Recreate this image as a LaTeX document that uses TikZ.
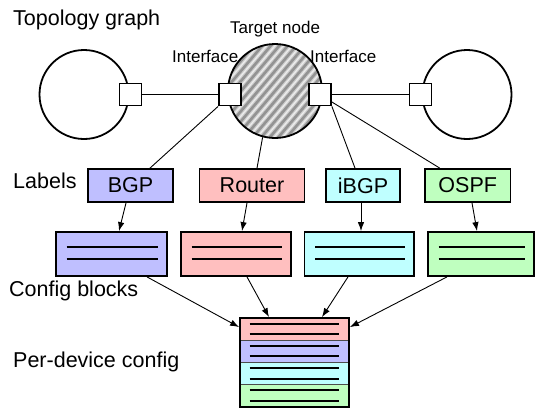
\documentclass[tikz,border=0pt]{standalone}
\usepackage{fontspec}
\setmainfont{Liberation Sans}
\usetikzlibrary{arrows.meta,calc}
\definecolor{colBGP}{HTML}{BFBFFF}
\definecolor{colRouter}{HTML}{FFBFBF}
\definecolor{colIBGP}{HTML}{BFFFFF}
\definecolor{colOSPF}{HTML}{BFFFBF}
\begin{document}
\begin{tikzpicture}[x=1pt,y=-1pt,
  big/.style={font=\fontsize{21.5}{24}\selectfont, inner sep=0pt, anchor=base west},
  small/.style={font=\fontsize{17}{20}\selectfont, inner sep=0pt, anchor=base west},
  ring/.style={circle, draw, line width=1.8pt, inner sep=0pt},
  port/.style={draw, fill=white, line width=1.8pt, minimum size=22pt, inner sep=0pt},
  lab/.style={draw, line width=1.8pt, minimum height=33pt, inner sep=0pt, font=\fontsize{21.5}{24}\selectfont},
  blk/.style={draw, line width=1.8pt, minimum height=44pt, inner sep=0pt},
  row/.style={draw=black!70, line width=0.8pt, minimum width=109pt, minimum height=22.25pt, inner sep=0pt},
  link/.style={line width=0.9pt},
  arr/.style={line width=0.9pt, -{Latex[length=9pt,width=6.5pt]}},
  cfgline/.style={line width=1.9pt},
  hatch/.style={path picture={
    \fill[gray!40] (path picture bounding box.south west) rectangle (path picture bounding box.north east);
    \foreach \k in {-16,...,16} {
      \draw[gray!85, line width=2.6pt] ($(path picture bounding box.center)+(\k*8.5-55,65)$) -- ++(110,-130);
      \draw[white!85!gray, line width=1.3pt] ($(path picture bounding box.center)+(\k*8.5-50.75,65)$) -- ++(110,-130);
    }}},
]
\useasboundingbox (0,0) rectangle (535,410);

% texts
\node[big] (tTopo) at (13,25) {Topology graph};
\node[small] (tTarget) at (230,33) {Target node};
\node[small] (tIf1) at (172,62) {Interface};
\node[small] (tIf2) at (310,62) {Interface};
\node[big] (tLabels) at (13,188) {Labels};
\node[big] (tCfg) at (9,296) {Config blocks};
\node[big] (tDev) at (13,367) {Per-device config};

% topology
\node[ring, minimum size=89pt] (cl) at (84,94.5) {};
\node[ring, minimum size=89pt] (cr) at (467,94.5) {};
\node[ring, minimum size=94pt, hatch] (tgt) at (275,91) {};
\coordinate (p1) at (130.5,94.5);
\coordinate (p2) at (230,94.5);
\coordinate (p3) at (320,94.5);
\coordinate (p4) at (420.5,94.5);
\draw[line width=1.6pt] (p1) -- (p2);
\draw[line width=1.6pt] (p3) -- (p4);
\node[port] (sq1) at (p1) {};
\node[port] (sq2) at (p2) {};
\node[port] (sq3) at (p3) {};
\node[port] (sq4) at (p4) {};

% label boxes
\node[lab, fill=colBGP, minimum width=85pt] (lbgp) at (130.5,185.5) {BGP};
\node[lab, fill=colRouter, minimum width=105pt] (lrouter) at (252,185.5) {Router};
\node[lab, fill=colIBGP, minimum width=74pt] (libgp) at (363,185.5) {iBGP};
\node[lab, fill=colOSPF, minimum width=85.5pt] (lospf) at (467.75,185.5) {OSPF};

% topology to labels
\draw[link] (sq2.south west) -- ([xshift=19.5pt]lbgp.north);
\draw[link] (tgt.-105) -- ([xshift=5pt]lrouter.north);
\draw[link] (sq3.south east) -- ([xshift=-8pt]libgp.north);
\draw[link] ([yshift=-7.5pt]sq3.east) -- ([xshift=-28pt]lospf.north);

% config blocks
\node[blk, fill=colBGP, minimum width=111pt] (cbgp) at (111.5,254) {};
\node[blk, fill=colRouter, minimum width=110pt] (crouter) at (236,254) {};
\node[blk, fill=colIBGP, minimum width=109.5pt] (cibgp) at (359.25,254) {};
\node[blk, fill=colOSPF, minimum width=106pt] (cospf) at (481,254) {};
\foreach \n in {cbgp,crouter,cibgp,cospf} {
  \draw[cfgline] ($(\n.north west)+(11.5,15.5)$) -- ($(\n.north east)+(-10,15.5)$);
  \draw[cfgline] ($(\n.north west)+(11.5,27.5)$) -- ($(\n.north east)+(-10,27.5)$);
}

% labels to config blocks
\draw[arr] ([xshift=-4.5pt]lbgp.south) -- ([xshift=7.5pt]cbgp.north);
\draw[arr] ([xshift=-5pt]lrouter.south) -- ([xshift=6pt]crouter.north);
\draw[arr] ([xshift=-2pt]libgp.south) -- ([xshift=1.75pt]cibgp.north);
\draw[arr] ([xshift=4.25pt]lospf.south) -- ([xshift=-4pt]cospf.north);

% per-device stack
\node[row, fill=colRouter] (r1) at (294.5,329.125) {};
\node[row, fill=colBGP] (r2) at (294.5,351.375) {};
\node[row, fill=colIBGP] (r3) at (294.5,373.625) {};
\node[row, fill=colOSPF] (r4) at (294.5,395.875) {};
\foreach \r in {r1,r2,r3,r4} {
  \draw[cfgline] ($(\r.north west)+(10,6)$) -- ($(\r.north east)+(-10,6)$);
  \draw[cfgline] ($(\r.north west)+(10,16.5)$) -- ($(\r.north east)+(-10,16.5)$);
}
\node[draw, line width=1.8pt, minimum width=109pt, minimum height=89pt, inner sep=0pt] (stack) at (294.5,362.5) {};

% config blocks to stack
\draw[arr] ([xshift=35.5pt]cbgp.south) -- ([yshift=-10pt]stack.north west);
\draw[arr] ([xshift=11pt]crouter.south) -- ([xshift=-25.5pt]stack.north);
\draw[arr] ([xshift=-11.25pt]cibgp.south) -- ([xshift=27.5pt]stack.north);
\draw[arr] ([xshift=-34pt]cospf.south) -- ([yshift=-10pt]stack.north east);
\end{tikzpicture}
\end{document}
